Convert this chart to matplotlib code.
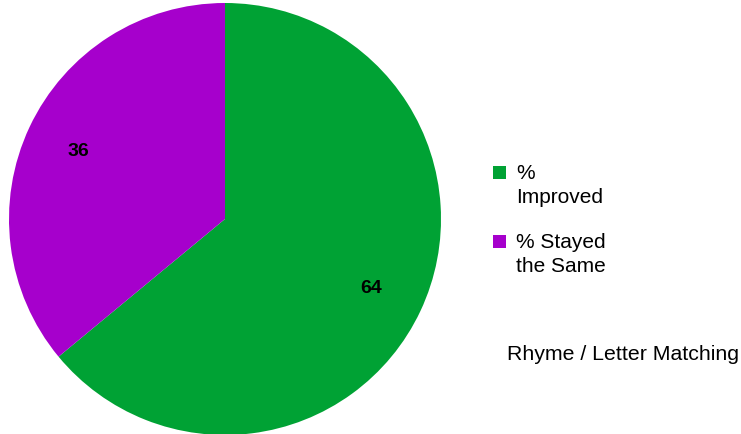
import matplotlib.pyplot as plt
from matplotlib.patches import Rectangle

plt.rcParams['font.family'] = ['Liberation Sans', 'DejaVu Sans']

# --- Data ---
labels = ['%\nImproved', '% Stayed\nthe Same']
values = [64, 36]
colors = ['#00A234', '#A600CC']
chart_title = 'Rhyme / Letter Matching'

W, H = 741, 435
fig = plt.figure(figsize=(W / 100, H / 100), dpi=100)

# pie centred at (225, 220) px, radius 216 px
cx, cy, r = 225, 220, 216
ax = fig.add_axes([(cx - r) / W, (H - cy - r) / H, 2 * r / W, 2 * r / H])
wedges, texts, autotexts = ax.pie(
    values, colors=colors, startangle=90, counterclock=False,
    autopct=lambda p: f'{p:.0f}', pctdistance=0.75, radius=1.0,
    wedgeprops=dict(linewidth=0),
    textprops=dict(fontsize=14, fontweight='bold', color='black'))
ax.set_xlim(-1, 1)
ax.set_ylim(-1, 1)
ax.set_aspect('equal')
ax.axis('off')

# --- Legend (manual) ---
entry_tops = [167, 236]
for top, lab, col in zip(entry_tops, labels, colors):
    fig.patches.append(Rectangle((493 / W, 1 - (top + 13) / H), 13 / W, 13 / H,
                                 transform=fig.transFigure, facecolor=col,
                                 edgecolor='none'))
    fig.text(516 / W, 1 - (top - 3) / H, lab, ha='left', va='top',
             fontsize=15, linespacing=1.32)

fig.text(507 / W, 1 - 355 / H, chart_title, ha='left', va='center', fontsize=15.3)

fig.savefig('out.png', dpi=100)
